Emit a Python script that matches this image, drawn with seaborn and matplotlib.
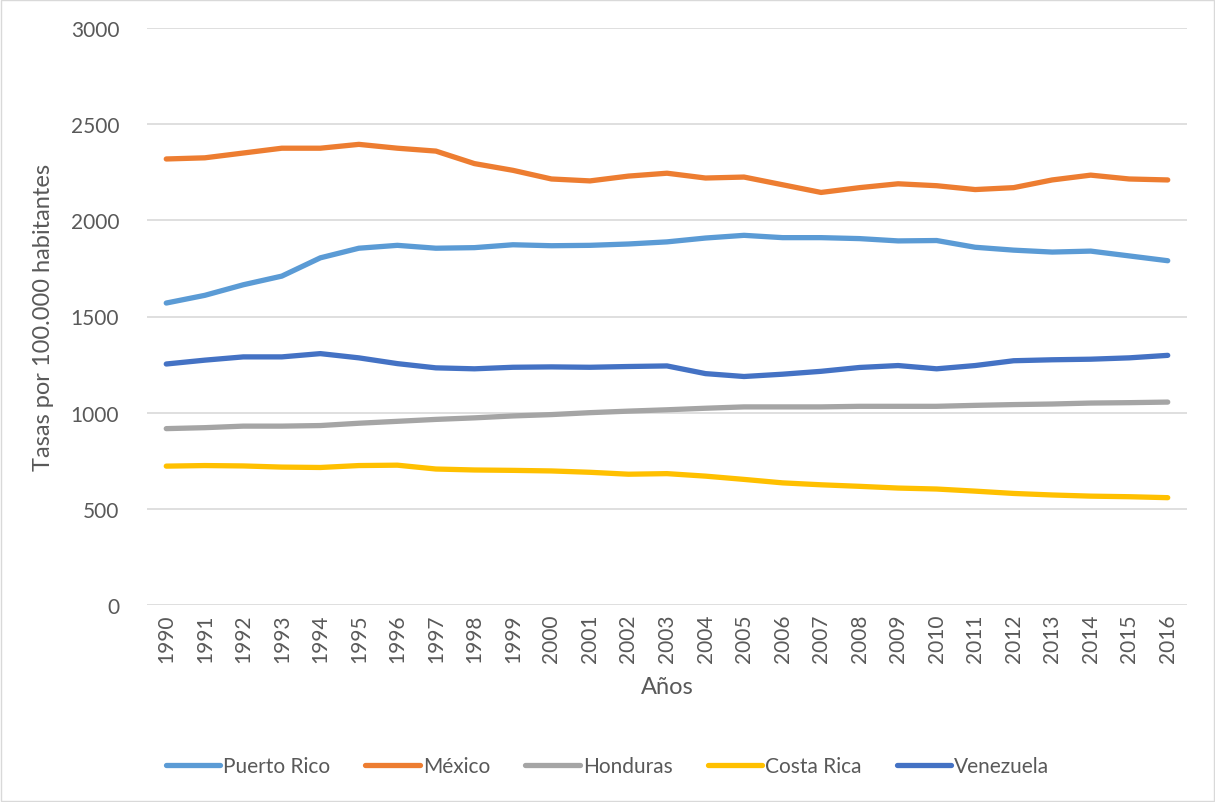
import pandas as pd
import numpy as np
import matplotlib.pyplot as plt
import seaborn as sns

# ---------------- DATA ---------------- #

years = list(range(1990, 2017))

puerto_rico = [1570, 1610, 1665, 1710, 1805, 1855, 1870, 1855, 1858, 1873,
               1868, 1870, 1877, 1888, 1908, 1922, 1910, 1910, 1905, 1893,
               1895, 1860, 1845, 1835, 1840, 1815, 1790]
mexico = [2319, 2325, 2350, 2375, 2375, 2395, 2375, 2360, 2295, 2260,
          2215, 2205, 2230, 2245, 2220, 2225, 2185, 2145, 2170, 2190,
          2180, 2160, 2170, 2210, 2235, 2215, 2210]
honduras = [917, 922, 930, 930, 933, 945, 955, 965, 973, 983,
            990, 1000, 1008, 1015, 1023, 1030, 1030, 1030, 1033, 1033,
            1033, 1038, 1042, 1045, 1050, 1052, 1055]
costa_rica = [722, 725, 723, 717, 715, 725, 727, 707, 702, 700,
              697, 690, 680, 683, 670, 653, 635, 625, 617, 608,
              603, 592, 580, 572, 566, 563, 558]
venezuela = [1253, 1273, 1290, 1290, 1307, 1285, 1255, 1233, 1228, 1236,
             1238, 1236, 1240, 1243, 1203, 1188, 1200, 1215, 1235, 1245,
             1228, 1245, 1270, 1275, 1278, 1285, 1298]

series = {
    "Puerto Rico": puerto_rico,
    "México": mexico,
    "Honduras": honduras,
    "Costa Rica": costa_rica,
    "Venezuela": venezuela,
}
colors = ["#5B9BD5", "#ED7D31", "#A5A5A5", "#FFC000", "#4472C4"]

rows = []
for name, vals in series.items():
    for y, v in zip(years, vals):
        rows.append({"Año": str(y), "Tasa": v, "País": name})
df = pd.DataFrame(rows)

# ---------------- PLOT ---------------- #

sns.set_style("white")
plt.rcParams["font.family"] = ["Lato", "DejaVu Sans"]

fig = plt.figure(figsize=(12.15, 8.03), dpi=100)
ax = fig.add_axes([147 / 1215, 1 - 606 / 803, (1187 - 147) / 1215, (606 - 29) / 803])

sns.lineplot(data=df, x="Año", y="Tasa", hue="País", palette=colors,
             linewidth=3.8, ax=ax, sort=False, solid_capstyle="round")

ax.set_ylim(0, 3000)
ax.set_yticks(range(0, 3001, 500))
ax.set_xlim(-0.5, len(years) - 0.5)
ax.grid(axis="y", color="#d9d9d9", linewidth=1.2)
ax.set_axisbelow(True)
for s in ["top", "right", "left", "bottom"]:
    ax.spines[s].set_visible(False)

ax.tick_params(axis="x", rotation=90, labelsize=15, colors="#595959", length=0, pad=6)
ax.tick_params(axis="y", labelsize=15, colors="#595959", length=0, pad=20)
ax.set_xlabel("Años", fontsize=17, color="#595959", labelpad=10)
ax.set_ylabel("Tasas por 100.000 habitantes", fontsize=17, color="#595959", labelpad=12)

handles, labels = ax.get_legend_handles_labels()
ax.get_legend().remove()
fig.legend(handles, labels, loc="center", bbox_to_anchor=(0.5, 1 - 767 / 803), ncol=5,
           frameon=False, fontsize=15, handlelength=2.6, handletextpad=0.15,
           columnspacing=1.7, labelcolor="#595959")

# light border around whole chart like the source
fig.patches.append(plt.Rectangle((0.001, 0.001), 0.998, 0.998, transform=fig.transFigure,
                                 fill=False, edgecolor="#d9d9d9", linewidth=1))

plt.savefig("out.png", dpi=100)
plt.close()
